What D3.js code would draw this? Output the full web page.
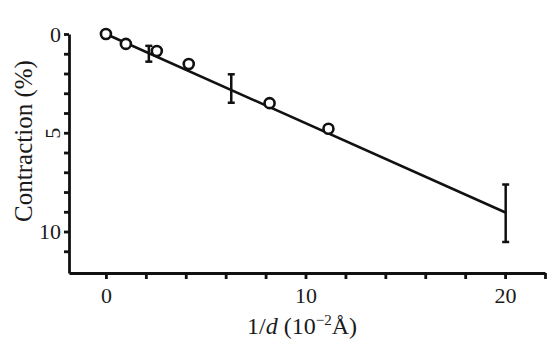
<!DOCTYPE html>
<html>
<head>
<meta charset="utf-8">
<script src="https://cdn.jsdelivr.net/npm/d3@7"></script>
<style>
  body { margin: 0; background: #fff; }
  svg text { font-family: "Liberation Serif", "DejaVu Serif", serif !important; fill: #1a1a1a; }
</style>
</head>
<body>
<div id="vis"></div>
<script>
// measured points (open circles)
const pointX = [0, 1, 2.55, 4.15, 8.2, 11.15];
const pointY = [0, 0.5, 0.86, 1.52, 3.5, 4.8];

// error bars
const errX = [2.15, 6.28, 20.03];
const errLow = [0.6, 2.04, 7.62];
const errHigh = [1.4, 3.48, 10.53];

// fitted line
const fitX = [0, 20.05];
const fitY = [0, 9.05];

const xTicks = [0, 2, 4, 6, 8, 10, 12, 14, 16, 18, 20, 22];
const xLabels = [0, 10, 20];
const yTicks = [0, 1, 2, 3, 4, 5, 6, 7, 8, 9, 10, 11];
const yLabels = [0, 5, 10];

const svg = d3.select("#vis").append("svg")
  .attr("width", 554)
  .attr("height", 345);

const x = d3.scaleLinear().domain([-1.85, 22]).range([69, 545]);
const y = d3.scaleLinear().domain([0, 12.1]).range([34, 273]);

// x axis
const xAxis = svg.append("g")
  .attr("transform", `translate(0,${y(12.1)})`)
  .call(d3.axisBottom(x)
    .tickValues(xTicks)
    .tickSize(6)
    .tickSizeOuter(0)
    .tickPadding(8)
    .tickFormat(d => xLabels.includes(d) ? d : ""));

// y axis
const yAxis = svg.append("g")
  .attr("transform", `translate(${x(-1.85)},0)`)
  .call(d3.axisLeft(y)
    .tickValues(yTicks)
    .tickSize(5)
    .tickSizeOuter(0)
    .tickPadding(3)
    .tickFormat(d => yLabels.includes(d) ? d : ""));

[xAxis, yAxis].forEach(a => {
  a.attr("font-family", null);
  a.select(".domain").attr("stroke", "#111").attr("stroke-width", 2.8);
  a.selectAll(".tick line").attr("stroke", "#111").attr("stroke-width", 2.8);
  a.selectAll(".tick text")
    .style("font-family", "'Liberation Serif', serif")
    .attr("font-size", 22)
    .attr("fill", "#222");
});

// the "5" label is printed sideways in the original
yAxis.selectAll(".tick text")
  .filter(d => d === 5)
  .attr("text-anchor", "middle")
  .attr("dy", null)
  .attr("dominant-baseline", "central")
  .attr("transform", "translate(-17,0) rotate(-90)")
  .attr("x", 0);

// fit line
svg.append("line")
  .attr("x1", x(fitX[0])).attr("y1", y(fitY[0]))
  .attr("x2", x(fitX[1])).attr("y2", y(fitY[1]))
  .attr("stroke", "#111")
  .attr("stroke-width", 2.5);

// error bars
const errData = errX.map((v, i) => ({ x: v, lo: errLow[i], hi: errHigh[i] }));
const eb = svg.selectAll(".err")
  .data(errData)
  .join("g")
  .attr("class", "err")
  .attr("stroke", "#111")
  .attr("stroke-width", 2.5);

eb.append("line")
  .attr("x1", d => x(d.x)).attr("x2", d => x(d.x))
  .attr("y1", d => y(d.lo)).attr("y2", d => y(d.hi));
eb.append("line")
  .attr("x1", d => x(d.x) - 3.5).attr("x2", d => x(d.x) + 3.5)
  .attr("y1", d => y(d.lo)).attr("y2", d => y(d.lo));
eb.append("line")
  .attr("x1", d => x(d.x) - 3.5).attr("x2", d => x(d.x) + 3.5)
  .attr("y1", d => y(d.hi)).attr("y2", d => y(d.hi));

// circles
svg.selectAll("circle")
  .data(pointX.map((v, i) => [v, pointY[i]]))
  .join("circle")
  .attr("cx", d => x(d[0]))
  .attr("cy", d => y(d[1]))
  .attr("r", 5)
  .attr("fill", "#fff")
  .attr("stroke", "#111")
  .attr("stroke-width", 2.6);

// axis labels
const xl = svg.append("text")
  .attr("x", 302)
  .attr("y", 334)
  .attr("text-anchor", "middle")
  .attr("font-size", 24);
xl.append("tspan").text("1/");
xl.append("tspan").attr("font-style", "italic").text("d");
xl.append("tspan").text(" (10");
xl.append("tspan").attr("font-size", 15).attr("dy", -9).text("\u22122");
xl.append("tspan").attr("dy", 9).text("\u00C5)");

svg.append("text")
  .attr("transform", "translate(32,141) rotate(-90)")
  .attr("text-anchor", "middle")
  .attr("font-size", 25)
  .text("Contraction (%)");
</script>
</body>
</html>
